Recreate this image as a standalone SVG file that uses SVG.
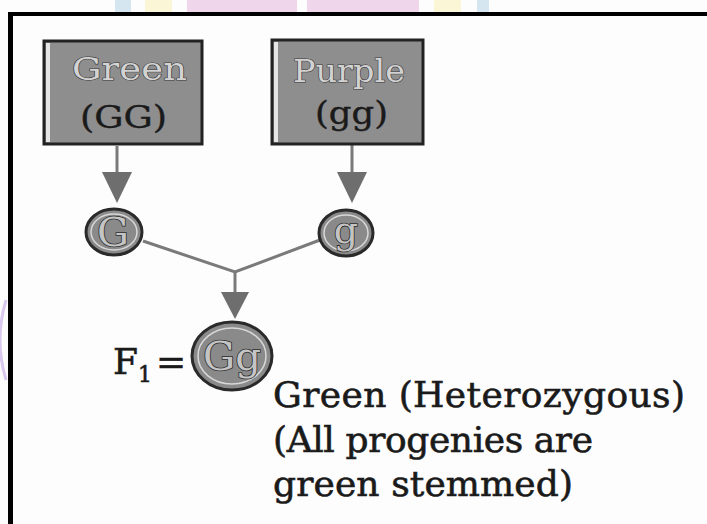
<svg xmlns="http://www.w3.org/2000/svg" width="707" height="524" viewBox="0 0 707 524">
<style>
.box{fill:#8e8e8e;stroke:#222;stroke-width:3}
.btl{font-family:"DejaVu Serif","Liberation Serif",serif;font-size:31px;fill:#d2d2d2;stroke:#3c3c3c;stroke-width:1.2;paint-order:stroke;text-anchor:start}
.btd{font-family:"DejaVu Serif","Liberation Serif",serif;font-size:32px;fill:#1a1a1a;stroke:#1a1a1a;stroke-width:0.4;text-anchor:start}
.cell{fill:#8a8a8a;stroke:#2a2a2a;stroke-width:3}
.ring{fill:none;stroke:#d8d8d8;stroke-width:1.5}
.ct{font-family:"DejaVu Serif","Liberation Serif",serif;fill:#c4c4c4;stroke:#2e2e2e;stroke-width:1.6;paint-order:stroke;text-anchor:middle}
.conn{stroke:#7a7a7a;stroke-width:3;fill:none}
.lbl{font-family:"DejaVu Serif","Liberation Serif",serif;font-size:36px;fill:#1a1a1a;stroke:#1a1a1a;stroke-width:0.6}
</style>
<rect width="707" height="524" fill="#fdfdfd"/>
<g id="strip">
<rect x="115" y="0" width="16" height="12" fill="#d6e6f0"/>
<rect x="145" y="0" width="27" height="12" fill="#fbf6d6"/>
<rect x="187" y="0" width="110" height="12" fill="#efd6ea"/>
<rect x="307" y="0" width="112" height="12" fill="#efd6ea"/>
<rect x="434" y="0" width="27" height="12" fill="#fbf6d6"/>
<rect x="477" y="0" width="12" height="12" fill="#d6e6f0"/>
</g>
<g id="frame">
<rect x="8" y="12" width="699" height="4" fill="#000"/>
<rect x="8" y="12" width="5" height="512" fill="#000"/>
</g>
<path d="M6,300 Q-6,340 6,380" stroke="#d9c8ee" stroke-width="3" fill="none"/>
<g id="connectors">
<line class="conn" x1="117" y1="146" x2="117" y2="180"/>
<path d="M102,172 L132,172 L117,203 Z" fill="#6e6e6e"/>
<line class="conn" x1="352" y1="145" x2="352" y2="180"/>
<path d="M337,172 L367,172 L352,203 Z" fill="#6e6e6e"/>
<polyline class="conn" points="143,241 235,272 320,240"/>
<line class="conn" x1="235" y1="272" x2="235" y2="300"/>
<path d="M221,292 L249,292 L235,319 Z" fill="#6e6e6e"/>
</g>
<g id="green-parent">
<rect class="box" x="44" y="41" width="158" height="103"/>
<rect x="46" y="43" width="4" height="99" fill="#e6e6e6"/>
<text class="btl" x="72" y="80" textLength="115" lengthAdjust="spacingAndGlyphs">Green</text>
<text class="btd" x="80" y="128" textLength="87" lengthAdjust="spacingAndGlyphs">(GG)</text>
</g>
<g id="purple-parent">
<rect class="box" x="272" y="40" width="151" height="104" stroke="#444"/>
<rect x="274" y="42" width="4" height="100" fill="#e6e6e6"/>
<text class="btl" x="293" y="82" textLength="112" lengthAdjust="spacingAndGlyphs">Purple</text>
<text class="btd" x="315" y="124" textLength="73" lengthAdjust="spacingAndGlyphs" fill="#3a3a3a" stroke="#3a3a3a">(gg)</text>
</g>
<g id="gamete-G">
<ellipse class="cell" cx="114" cy="232" rx="28" ry="23" stroke-width="3.5"/>
<ellipse class="ring" cx="114" cy="232" rx="23" ry="18"/>
<text class="ct" x="113" y="246" font-size="40">G</text>
</g>
<g id="gamete-g">
<ellipse class="cell" cx="346" cy="233" rx="27" ry="23" stroke="#4a4a4a"/>
<ellipse class="ring" cx="346" cy="233" rx="22" ry="18"/>
<text class="ct" x="346" y="243" font-size="38">g</text>
</g>
<g id="f1">
<text class="lbl" x="113" y="374" font-size="36">F<tspan font-size="22" dy="8">1</tspan><tspan dy="-8" dx="4">=</tspan></text>
<ellipse class="cell" cx="232" cy="356" rx="40" ry="34" stroke="#3a3a3a"/>
<ellipse class="ring" cx="232" cy="356" rx="34" ry="28"/>
<text class="ct" x="232" y="370" font-size="40" textLength="58" lengthAdjust="spacingAndGlyphs">Gg</text>
</g>
<g id="label">
<text class="lbl" x="273" y="407" textLength="412">Green (Heterozygous)</text>
<text class="lbl" x="273" y="452" textLength="320">(All progenies are</text>
<text class="lbl" x="273" y="496" textLength="300">green stemmed)</text>
</g>
</svg>
